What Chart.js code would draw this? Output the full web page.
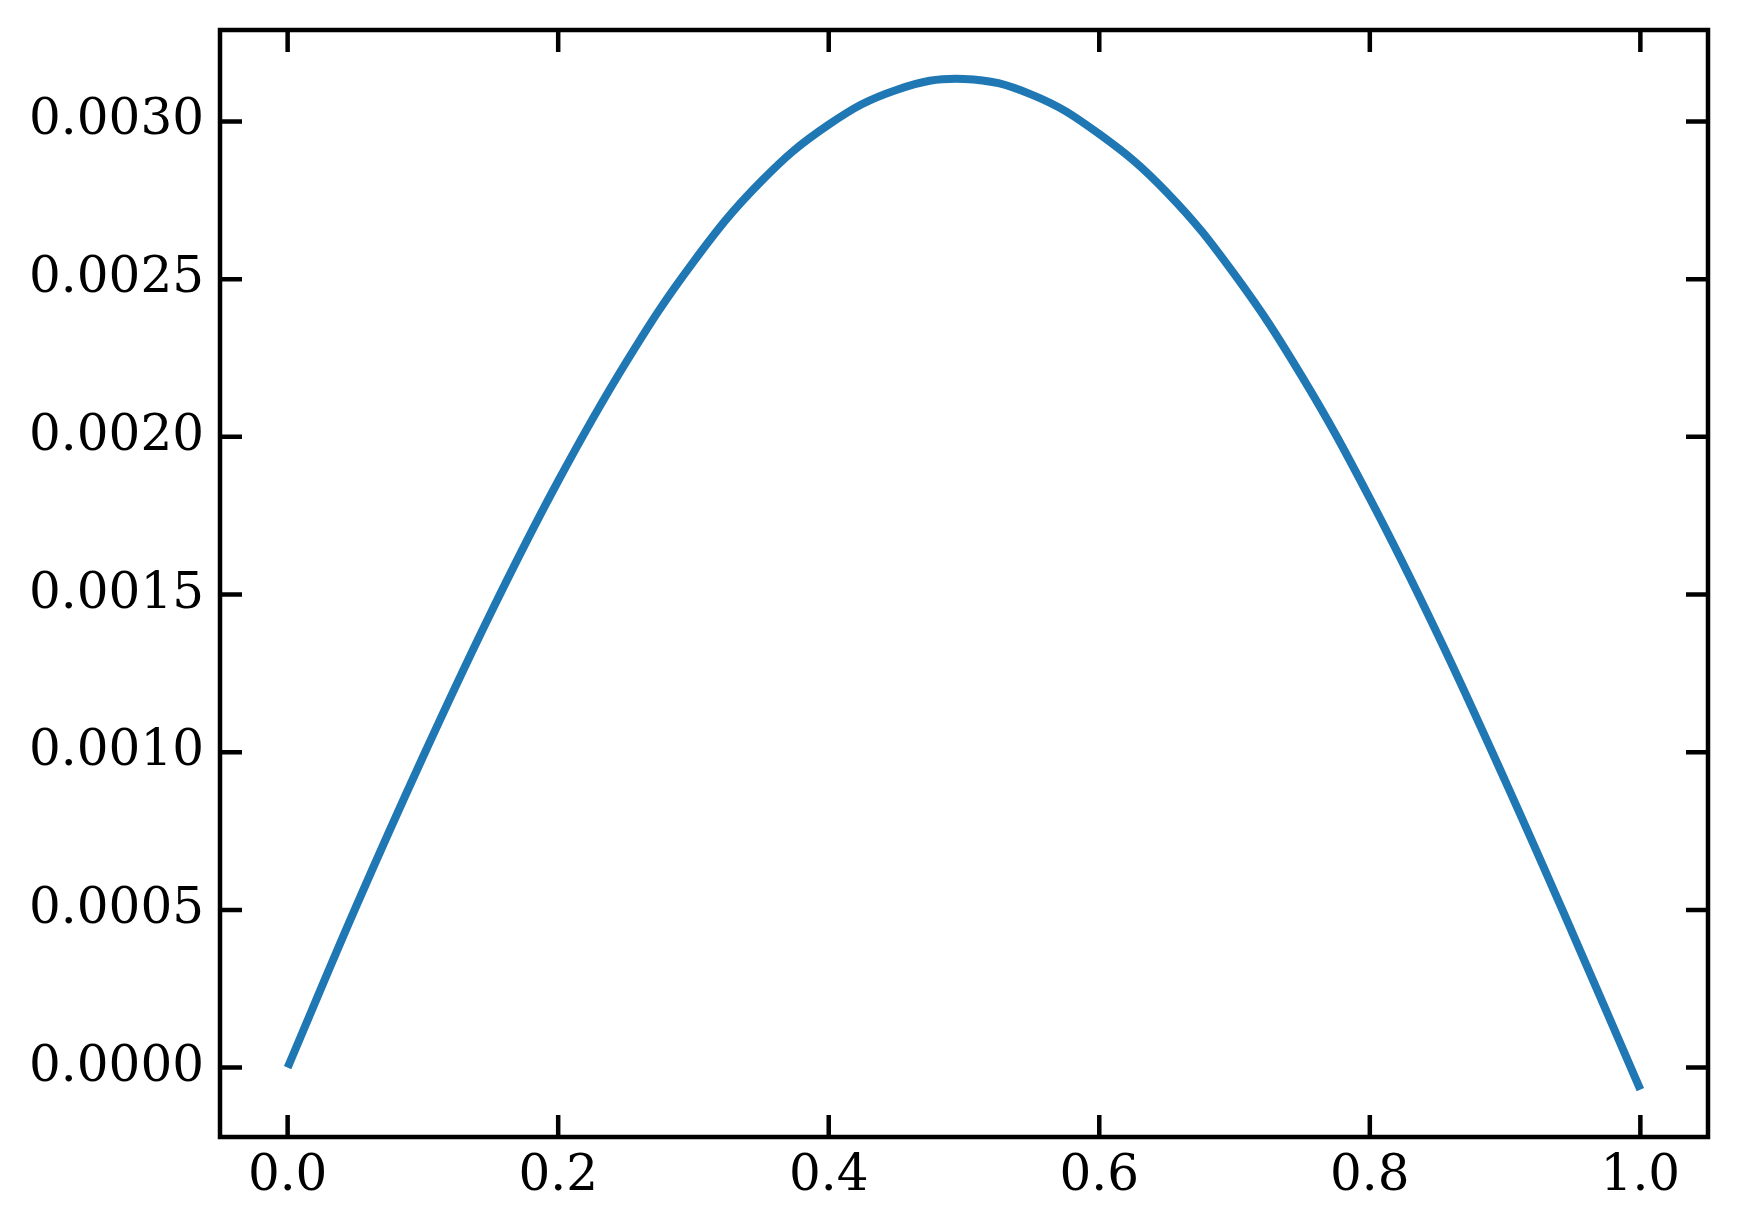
<!DOCTYPE html>
<html>
<head>
<meta charset="utf-8">
<script src="https://cdn.jsdelivr.net/npm/chart.js@4"></script>
<style>
  html, body { margin: 0; padding: 0; background: #fff; }
  #wrap { width: 1737px; height: 1232px; position: relative; }
</style>
</head>
<body>
<div id="wrap"><canvas id="plot"></canvas></div>
<script>
// values
const xValues = [0, 0.05, 0.10, 0.15, 0.20, 0.25, 0.30, 0.35, 0.40, 0.45, 0.50,
                 0.55, 0.60, 0.65, 0.70, 0.75, 0.80, 0.85, 0.90, 0.95, 1.00];
const yValues = [0, 0.000505, 0.000985, 0.001440, 0.001860, 0.002235, 0.002555, 0.002810,
                 0.002990, 0.003100, 0.003135, 0.003085, 0.002960, 0.002775, 0.002515, 0.002190,
                 0.001805, 0.001375, 0.000910, 0.000425, -0.00007];

const xTicks = [0, 0.2, 0.4, 0.6, 0.8, 1.0];
const xTickLabels = ['0.0', '0.2', '0.4', '0.6', '0.8', '1.0'];
const yTicks = [0, 0.0005, 0.0010, 0.0015, 0.0020, 0.0025, 0.0030];
const yTickLabels = ['0.0000', '0.0005', '0.0010', '0.0015', '0.0020', '0.0025', '0.0030'];

const points = xValues.map((x, i) => ({ x: x, y: yValues[i] }));

// inward ticks on all four sides plus the frame
const framePlugin = {
    id: 'frame',
    afterDraw(chart) {
        const ctx = chart.ctx;
        const a = chart.chartArea;
        const xs = chart.scales.x;
        const ys = chart.scales.y;
        const len = 22;
        ctx.save();
        ctx.strokeStyle = '#000';
        ctx.lineWidth = 4.5;
        ctx.lineCap = 'butt';
        ctx.beginPath();
        xTicks.forEach(t => {
            const px = xs.getPixelForValue(t);
            ctx.moveTo(px, a.bottom); ctx.lineTo(px, a.bottom - len);
            ctx.moveTo(px, a.top); ctx.lineTo(px, a.top + len);
        });
        yTicks.forEach(t => {
            const py = ys.getPixelForValue(t);
            ctx.moveTo(a.left, py); ctx.lineTo(a.left + len, py);
            ctx.moveTo(a.right, py); ctx.lineTo(a.right - len, py);
        });
        ctx.stroke();
        ctx.lineJoin = 'miter';
        ctx.strokeRect(a.left, a.top, a.right - a.left, a.bottom - a.top);
        ctx.restore();
    }
};

const tickFont = { family: "'DejaVu Serif', serif", size: 50 };

// pin the plot box where the reference has it
function noPad(s) {
    s.paddingTop = 0; s.paddingBottom = 0; s.paddingLeft = 0; s.paddingRight = 0;
}

new Chart(document.getElementById('plot'), {
    type: 'line',
    data: {
        datasets: [{
            data: points,
            borderColor: '#1f77b4',
            borderWidth: 8,
            pointRadius: 0,
            fill: false,
            tension: 0.4
        }]
    },
    options: {
        responsive: true,
        maintainAspectRatio: false,
        devicePixelRatio: 1,
        animation: false,
        layout: { padding: { top: 30, right: 29, left: 0, bottom: 0 } },
        plugins: { legend: { display: false }, tooltip: { enabled: false } },
        scales: {
            x: {
                type: 'linear',
                min: -0.05,
                max: 1.05,
                grid: { display: false, drawTicks: false },
                border: { display: false },
                afterBuildTicks: s => { s.ticks = xTicks.map(v => ({ value: v })); },
                afterFit: s => { s.height = 95; noPad(s); },
                ticks: {
                    color: '#000',
                    font: tickFont,
                    padding: 10,
                    maxRotation: 0,
                    callback: (v, i) => xTickLabels[i]
                }
            },
            y: {
                min: -0.00022,
                max: 0.00329,
                grid: { display: false, drawTicks: false },
                border: { display: false },
                afterBuildTicks: s => { s.ticks = yTicks.map(v => ({ value: v })); },
                afterFit: s => { s.width = 220; noPad(s); },
                ticks: {
                    color: '#000',
                    font: tickFont,
                    padding: 16,
                    callback: (v, i) => yTickLabels[i]
                }
            }
        }
    },
    plugins: [framePlugin]
});
</script>
</body>
</html>
